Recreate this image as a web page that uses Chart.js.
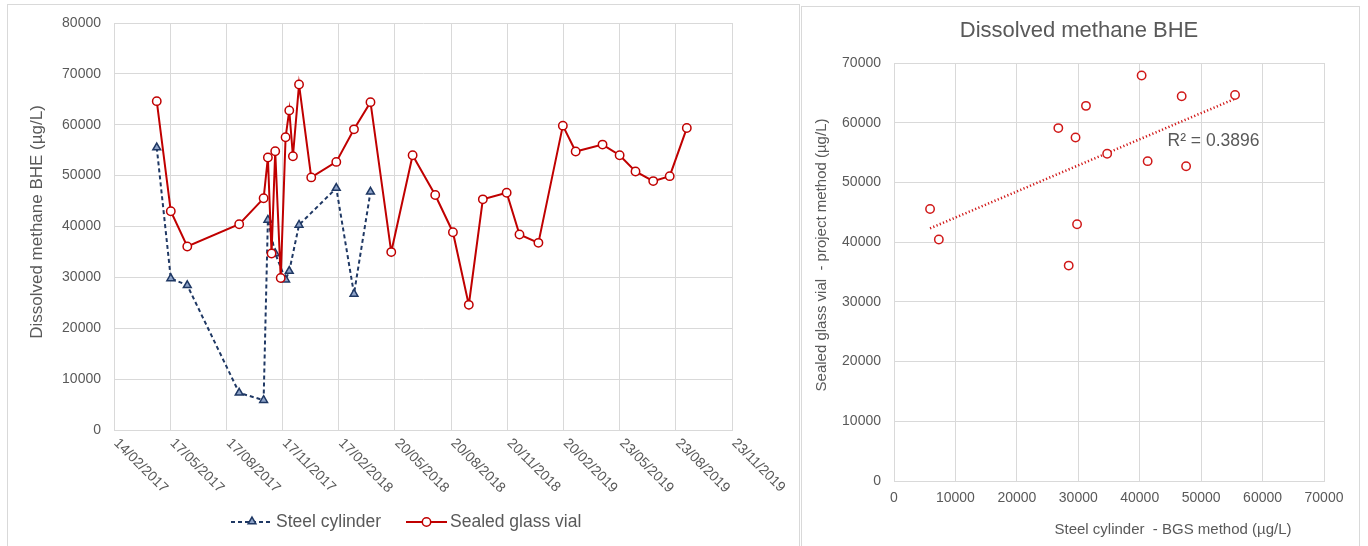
<!DOCTYPE html>
<html>
<head>
<meta charset="utf-8">
<title>Dissolved methane BHE</title>
<script src="https://cdn.jsdelivr.net/npm/chart.js@4.4.1/dist/chart.umd.min.js"></script>
<style>
  html, body { margin: 0; padding: 0; background: #ffffff; }
  #wrap { position: relative; width: 1368px; height: 546px; overflow: hidden; }
  .panel { position: absolute; border: 1px solid #D9D9D9; box-sizing: border-box; }
  #p1 { left: 7px; top: 4px; width: 793px; height: 560px; }
  #p2 { left: 801px; top: 6px; width: 559px; height: 560px; }
  canvas { position: absolute; top: 0; }
  #timeChart { left: 0; }
  #scatterChart { left: 800px; }
</style>
</head>
<body>
<div id="wrap">
  <div class="panel" id="p1"></div>
  <div class="panel" id="p2"></div>
  <canvas id="timeChart" width="800" height="546"></canvas>
  <canvas id="scatterChart" width="568" height="546"></canvas>
</div>
<script>
// ---- data ----
const glassDates = [
  '2017-04-25', '2017-05-18', '2017-06-14', '2017-09-07', '2017-10-17', '2017-10-24',
  '2017-10-30', '2017-11-05', '2017-11-14', '2017-11-22', '2017-11-28', '2017-12-04',
  '2017-12-14', '2018-01-03', '2018-02-13', '2018-03-14', '2018-04-10', '2018-05-14',
  '2018-06-18', '2018-07-25', '2018-08-23', '2018-09-18', '2018-10-11', '2018-11-19',
  '2018-12-10', '2019-01-10', '2019-02-19', '2019-03-12', '2019-04-25', '2019-05-23',
  '2019-06-18', '2019-07-17', '2019-08-13', '2019-09-10'
];
const glassValues = [
  64640, 43000, 36070, 40450, 45540, 53560,
  34700, 54800, 29880, 57530, 62820, 53820,
  67900, 49650, 52700, 59100, 64440, 34970,
  54010, 46180, 38880, 24600, 45340, 46640,
  38420, 36790, 59820, 54740, 56100, 54010,
  50820, 48920, 49900, 59350
];
const steelDates = [
  '2017-04-25', '2017-05-18', '2017-06-14', '2017-09-07', '2017-10-17', '2017-10-24',
  '2017-11-05', '2017-11-22', '2017-11-28', '2017-12-14', '2018-02-13', '2018-03-14',
  '2018-04-10'
];
const steelValues = [
  55520, 29800, 28440, 7300, 5870, 41290,
  34700, 29550, 31250, 40310, 47550, 26750,
  46830
];
const xTickLabels = [
  '14/02/2017', '17/05/2017', '17/08/2017', '17/11/2017', '17/02/2018', '20/05/2018',
  '20/08/2018', '20/11/2018', '20/02/2019', '23/05/2019', '23/08/2019', '23/11/2019'
];
const rSquaredText = 'R² = 0.3896';

// ---- style ----
const FONT = "'Liberation Sans', Arial, sans-serif";
const TEXT = '#595959';
const GRID = '#D9D9D9';
const RED = '#C00000';
const NAVY = '#1F3864';
const NAVY_FILL = '#8EA3C8';

// day numbers (UTC) for dates
const dayISO = s => { const [y, m, d] = s.split('-').map(Number); return Date.UTC(y, m - 1, d) / 864e5; };
const dayDMY = s => { const [d, m, y] = s.split('/').map(Number); return Date.UTC(y, m - 1, d) / 864e5; };

const glassSeries = glassDates.map((d, i) => ({ x: dayISO(d), y: glassValues[i] }));
const steelSeries = steelDates.map((d, i) => ({ x: dayISO(d), y: steelValues[i] }));

// paired samples: steel cylinder vs sealed glass vial on the same date
const pairs = steelDates.map((d, i) => ({ x: steelValues[i], y: glassValues[glassDates.indexOf(d)] }));

// least-squares trend line
const n = pairs.length;
const mx = pairs.reduce((s, p) => s + p.x, 0) / n;
const my = pairs.reduce((s, p) => s + p.y, 0) / n;
let sxy = 0, sxx = 0;
pairs.forEach(p => { sxy += (p.x - mx) * (p.y - my); sxx += (p.x - mx) * (p.x - mx); });
const slope = sxy / sxx;
const intercept = my - slope * mx;
const xs = pairs.map(p => p.x);
const trendX = [Math.min(...xs), Math.max(...xs)];
const trendSeries = trendX.map(x => ({ x, y: intercept + slope * x }));

function drawTriangle(ctx, x, y, r) {
  ctx.beginPath();
  for (let k = 0; k < 3; k++) {
    const a = -Math.PI / 2 + k * 2 * Math.PI / 3;
    const px = x + Math.cos(a) * r, py = y + Math.sin(a) * r;
    if (k === 0) ctx.moveTo(px, py); else ctx.lineTo(px, py);
  }
  ctx.closePath();
}

// ---- time series chart ----
const timeDecor = {
  id: 'timeDecor',
  afterDraw(chart) {
    const ctx = chart.ctx;
    const area = chart.chartArea;
    const xs = chart.scales.x;
    ctx.save();
    ctx.fillStyle = TEXT;

    // rotated date labels
    ctx.font = '14px ' + FONT;
    ctx.textAlign = 'left';
    ctx.textBaseline = 'middle';
    xTickLabels.forEach(lbl => {
      const px = xs.getPixelForValue(dayDMY(lbl));
      ctx.save();
      ctx.translate(px + 2, area.bottom + 11);
      ctx.rotate(Math.PI / 4);
      ctx.fillText(lbl, 0, 0);
      ctx.restore();
    });

    // y axis title
    ctx.save();
    ctx.font = '17px ' + FONT;
    ctx.textAlign = 'center';
    ctx.translate(37, 222);
    ctx.rotate(-Math.PI / 2);
    ctx.fillText('Dissolved methane BHE (µg/L)', 0, 0);
    ctx.restore();

    // legend
    const ly = 522;
    ctx.font = '17.5px ' + FONT;
    ctx.textAlign = 'left';
    ctx.lineWidth = 2;
    ctx.strokeStyle = NAVY;
    ctx.setLineDash([4, 3]);
    ctx.beginPath(); ctx.moveTo(231, ly); ctx.lineTo(273, ly); ctx.stroke();
    ctx.setLineDash([]);
    ctx.lineWidth = 1.5;
    drawTriangle(ctx, 252, ly - 0.5, 4.5);
    ctx.fillStyle = NAVY_FILL; ctx.fill(); ctx.stroke();
    ctx.fillStyle = TEXT;
    ctx.fillText('Steel cylinder', 276, ly);

    ctx.strokeStyle = RED;
    ctx.lineWidth = 2;
    ctx.beginPath(); ctx.moveTo(406, ly); ctx.lineTo(447, ly); ctx.stroke();
    ctx.lineWidth = 1.5;
    ctx.beginPath(); ctx.arc(426.5, ly, 4.2, 0, Math.PI * 2);
    ctx.fillStyle = '#ffffff'; ctx.fill(); ctx.stroke();
    ctx.fillStyle = TEXT;
    ctx.fillText('Sealed glass vial', 450, ly);
    ctx.restore();
  }
};

new Chart(document.getElementById('timeChart'), {
  type: 'line',
  data: {
    datasets: [
      {
        label: 'Steel cylinder',
        data: steelSeries,
        order: 2,
        borderColor: NAVY,
        borderWidth: 2,
        borderDash: [4, 3],
        pointStyle: 'triangle',
        pointRadius: 4.5,
        pointBorderWidth: 1.5,
        pointBorderColor: NAVY,
        pointBackgroundColor: NAVY_FILL,
        tension: 0
      },
      {
        label: 'Sealed glass vial',
        data: glassSeries,
        order: 1,
        borderColor: RED,
        borderWidth: 2,
        pointStyle: 'circle',
        pointRadius: 4.2,
        pointBorderWidth: 1.5,
        pointBorderColor: RED,
        pointBackgroundColor: '#ffffff',
        tension: 0
      }
    ]
  },
  options: {
    responsive: false,
    animation: false,
    events: [],
    layout: { padding: { left: 54, right: 68, top: 23, bottom: 106 } },
    plugins: { legend: { display: false }, tooltip: { enabled: false } },
    scales: {
      x: {
        type: 'linear',
        min: dayISO('2017-02-14'),
        max: dayISO('2019-11-23'),
        afterBuildTicks: s => { s.ticks = xTickLabels.map(l => ({ value: dayDMY(l) })); },
        afterFit: s => { s.height = 10; },
        ticks: { display: false },
        grid: { color: GRID, drawTicks: false },
        border: { color: GRID }
      },
      y: {
        min: 0,
        max: 80000,
        afterFit: s => { s.width = 60; },
        ticks: {
          stepSize: 10000,
          padding: 13,
          color: TEXT,
          font: { family: FONT, size: 14 },
          callback: v => String(v)
        },
        grid: { color: GRID, drawTicks: false },
        border: { color: GRID }
      }
    }
  },
  plugins: [timeDecor]
});

// ---- scatter chart ----
const scatterDecor = {
  id: 'scatterDecor',
  afterDraw(chart) {
    const ctx = chart.ctx;
    const area = chart.chartArea;
    ctx.save();
    ctx.fillStyle = TEXT;
    ctx.textBaseline = 'middle';

    ctx.font = '17.5px ' + FONT;
    ctx.textAlign = 'left';
    ctx.fillText(rSquaredText, area.left + 273.5, area.top + 78);

    ctx.font = '15px ' + FONT;
    ctx.textAlign = 'center';
    ctx.fillText('Steel cylinder  - BGS method (µg/L)', 373, 530);

    ctx.translate(22, 255);
    ctx.rotate(-Math.PI / 2);
    ctx.fillText('Sealed glass vial  - project method (µg/L)', 0, 0);
    ctx.restore();
  }
};

const axisStyle = {
  type: 'linear',
  min: 0,
  max: 70000,
  ticks: {
    stepSize: 10000,
    color: TEXT,
    font: { family: FONT, size: 14 },
    callback: v => String(v)
  },
  grid: { color: GRID, drawTicks: false },
  border: { color: GRID }
};

new Chart(document.getElementById('scatterChart'), {
  type: 'scatter',
  data: {
    datasets: [
      {
        label: 'Sealed glass vial vs steel cylinder',
        data: pairs,
        order: 1,
        pointStyle: 'circle',
        pointRadius: 4.2,
        pointBorderWidth: 1.5,
        pointBorderColor: '#D01818',
        pointBackgroundColor: '#ffffff'
      },
      {
        type: 'line',
        label: 'Linear trend',
        data: trendSeries,
        order: 2,
        borderColor: '#D01818',
        borderWidth: 2.5,
        borderDash: [1.2, 2.3],
        pointRadius: 0,
        fill: false
      }
    ]
  },
  options: {
    responsive: false,
    animation: false,
    events: [],
    layout: { padding: { left: 34, right: 44, top: 0, bottom: 35 } },
    plugins: {
      legend: { display: false },
      tooltip: { enabled: false },
      title: {
        display: true,
        text: 'Dissolved methane BHE',
        color: TEXT,
        font: { family: FONT, size: 22, weight: 'normal' },
        padding: { top: 18, bottom: 18.6 }
      }
    },
    scales: {
      x: Object.assign({}, axisStyle, {
        ticks: Object.assign({}, axisStyle.ticks, { padding: 9 }),
        afterFit: s => { s.height = 30; }
      }),
      y: Object.assign({}, axisStyle, {
        ticks: Object.assign({}, axisStyle.ticks, { padding: 13 }),
        afterFit: s => { s.width = 60; }
      })
    }
  },
  plugins: [scatterDecor]
});
</script>
</body>
</html>
